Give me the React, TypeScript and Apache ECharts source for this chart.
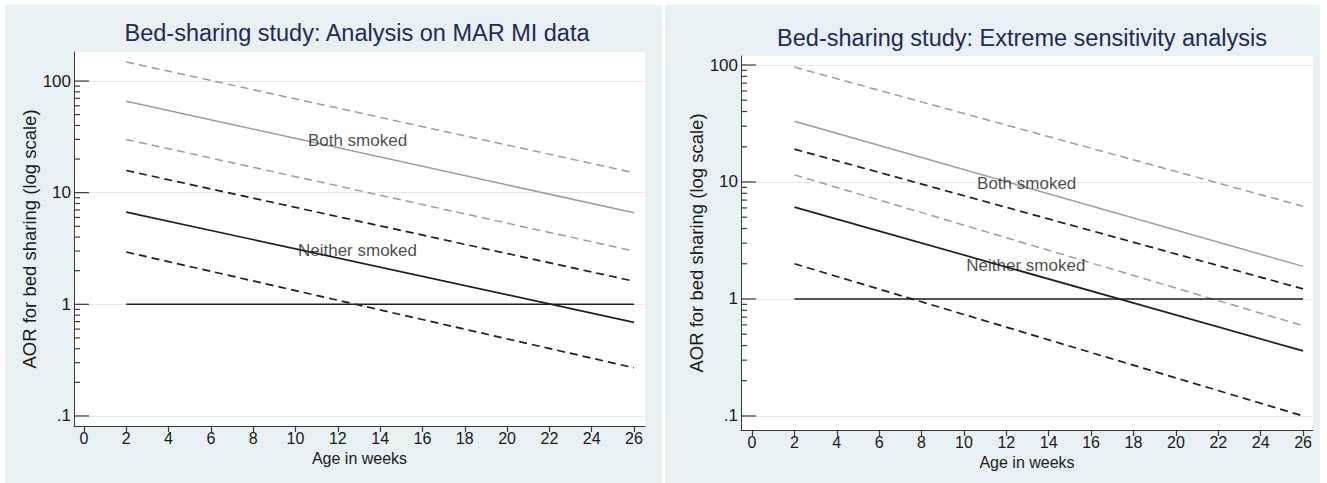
import React, { useEffect, useRef } from "react";
import * as echarts from "echarts";

// ---------- data ----------
const weeks = [2, 26];

// Left panel: Analysis on MAR MI data (AOR values at 2 and 26 weeks)
const leftBothUpper = [148, 15.1];
const leftBoth = [66, 6.6];
const leftBothLower = [30, 3.0];
const leftNeitherUpper = [15.8, 1.61];
const leftNeither = [6.7, 0.69];
const leftNeitherLower = [2.94, 0.27];

// Right panel: Extreme sensitivity analysis
const rightBothUpper = [96, 6.2];
const rightBoth = [33, 1.9];
const rightBothLower = [11.5, 0.59];
const rightNeitherUpper = [19.1, 1.22];
const rightNeither = [6.1, 0.36];
const rightNeitherLower = [2.0, 0.1];

const referenceLine = [1, 1];

const xTicks = [0, 2, 4, 6, 8, 10, 12, 14, 16, 18, 20, 22, 24, 26];
const yMajor = [0.1, 1, 10, 100];
const yMajorLabels = [".1", "1", "10", "100"];
const yMinor = [
  0.2, 0.3, 0.4, 0.5, 0.6, 0.7, 0.8, 0.9,
  2, 3, 4, 5, 6, 7, 8, 9,
  20, 30, 40, 50, 60, 70, 80, 90,
];

const leftAnnotations = [
  { text: "Both smoked", week: 12.93, aor: 29.6 },
  { text: "Neither smoked", week: 12.93, aor: 3.02 },
];
const rightAnnotations = [
  { text: "Both smoked", week: 12.96, aor: 9.75 },
  { text: "Neither smoked", week: 12.92, aor: 1.95 },
];

const titles = [
  "Bed-sharing study: Analysis on MAR MI data",
  "Bed-sharing study: Extreme sensitivity analysis",
];

// ---------- styling ----------
const FONT = "'Liberation Sans', Arial, Helvetica, sans-serif";
const PANEL_BG = "#e8f0f3";
const AXIS_COLOR = "#3a3a3a";
const TEXT_COLOR = "#1a1a1a";
const GRAY = "#9b9b9b";
const BLACK = "#1e1e1e";
const GRID_COLOR = "#dfe8ec";
const MAJOR_TICK_LEN = 15;
const MINOR_TICK_LEN = 6;

const L = (v: number) => Math.log10(v);

const grids = [
  { left: 74, top: 52, width: 571, height: 374, ymin: -1.09, ymax: 2.26, xmin: -0.47, xmax: 26.52 },
  { left: 741, top: 56, width: 572, height: 374, ymin: -1.12, ymax: 2.077, xmin: -0.52, xmax: 26.47 },
];

function yAxis(gi: number) {
  const g = grids[gi];
  return {
    type: "value",
    gridIndex: gi,
    min: g.ymin,
    max: g.ymax,
    position: "left",
    axisLine: { show: true, onZero: false, lineStyle: { color: AXIS_COLOR, width: 1 } },
    axisTick: { show: false, customValues: yMajor.map(L) },
    axisLabel: {
      show: true,
      customValues: yMajor.map(L),
      margin: 3,
      fontSize: 17,
      color: TEXT_COLOR,
      fontFamily: FONT,
      formatter: (v: number) => {
        const idx = yMajor.findIndex((m) => Math.abs(L(m) - v) < 1e-6);
        return idx >= 0 ? yMajorLabels[idx] : "";
      },
    },
    splitLine: { show: true, lineStyle: { color: GRID_COLOR, width: 1 } },
    name: "AOR for bed sharing (log scale)",
    nameLocation: "middle",
    nameGap: 34,
    nameTextStyle: { fontSize: 18.5, color: TEXT_COLOR, fontFamily: FONT },
  };
}

function xAxis(gi: number) {
  const g = grids[gi];
  return {
    type: "value",
    gridIndex: gi,
    min: g.xmin,
    max: g.xmax,
    position: "bottom",
    axisLine: { show: true, onZero: false, lineStyle: { color: AXIS_COLOR, width: 1 } },
    axisTick: {
      show: true,
      inside: false,
      length: 6,
      customValues: xTicks,
      lineStyle: { color: AXIS_COLOR, width: 1.2 },
    },
    axisLabel: {
      show: true,
      customValues: xTicks,
      margin: 4,
      fontSize: 16,
      color: TEXT_COLOR,
      fontFamily: FONT,
    },
    splitLine: { show: false },
    name: "Age in weeks",
    nameLocation: "middle",
    nameGap: 24,
    nameTextStyle: { fontSize: 16, color: TEXT_COLOR, fontFamily: FONT },
  };
}

// y-axis ticks (log major + minor) drawn through the grid's coordinate system,
// pointing inward from the axis line
function yTicks(gi: number) {
  const g = grids[gi];
  const data = [
    ...yMajor.map((v) => [g.xmin, L(v), MAJOR_TICK_LEN]),
    ...yMinor.map((v) => [g.xmin, L(v), MINOR_TICK_LEN]),
  ];
  return {
    type: "custom",
    xAxisIndex: gi,
    yAxisIndex: gi,
    silent: true,
    clip: false,
    z: 6,
    data,
    renderItem: (_params: any, api: any) => {
      const p = api.coord([api.value(0), api.value(1)]);
      const len = api.value(2);
      return {
        type: "line",
        shape: { x1: p[0], y1: p[1], x2: p[0] + len, y2: p[1] },
        style: { stroke: AXIS_COLOR, lineWidth: 1.2 },
      };
    },
  };
}

function line(gi: number, vals: number[], color: string, dashed: boolean, width: number) {
  return {
    type: "line",
    xAxisIndex: gi,
    yAxisIndex: gi,
    data: weeks.map((w, i) => [w, L(vals[i])]),
    symbol: "none",
    silent: true,
    z: 3,
    lineStyle: { color, width, type: dashed ? [8, 5] : "solid" },
  };
}

function annotations(gi: number, list: { text: string; week: number; aor: number }[]) {
  return {
    type: "scatter",
    xAxisIndex: gi,
    yAxisIndex: gi,
    symbolSize: 1,
    silent: true,
    z: 5,
    itemStyle: { color: "rgba(0,0,0,0)" },
    data: list.map((a) => ({ value: [a.week, L(a.aor)], name: a.text })),
    label: {
      show: true,
      position: "inside",
      formatter: (p: any) => p.name,
      fontSize: 17,
      color: TEXT_COLOR,
      textBorderWidth: 0,
      fontFamily: FONT,
    },
  };
}

export default function App() {
  const ref = useRef<HTMLDivElement>(null);
  useEffect(() => {
    if (!ref.current) return;
    const chart = echarts.init(ref.current, undefined, { renderer: "svg" });
    const option = {
      animation: false,
      backgroundColor: "#ffffff",
      graphic: [
        { type: "rect", z: -10, shape: { x: 5, y: 5, width: 657, height: 478 }, style: { fill: PANEL_BG } },
        { type: "rect", z: -10, shape: { x: 665, y: 5, width: 655, height: 478 }, style: { fill: PANEL_BG } },
        {
          type: "text", x: 357, y: 33, z: 10,
          style: { text: titles[0], align: "center", verticalAlign: "middle", fontSize: 23.5, fill: "#1f2a55", fontFamily: FONT },
        },
        {
          type: "text", x: 1022, y: 38, z: 10,
          style: { text: titles[1], align: "center", verticalAlign: "middle", fontSize: 23.5, fill: "#1f2a55", fontFamily: FONT },
        },
      ],
      grid: grids.map((g) => ({
        left: g.left, top: g.top, width: g.width, height: g.height,
        show: true, backgroundColor: "#ffffff", borderWidth: 0,
      })),
      xAxis: [xAxis(0), xAxis(1)],
      yAxis: [yAxis(0), yAxis(1)],
      series: [
        line(0, leftBothUpper, GRAY, true, 1.5),
        line(0, leftBoth, GRAY, false, 1.5),
        line(0, leftBothLower, GRAY, true, 1.5),
        line(0, leftNeitherUpper, BLACK, true, 1.7),
        line(0, leftNeither, BLACK, false, 1.7),
        line(0, leftNeitherLower, BLACK, true, 1.7),
        line(0, referenceLine, BLACK, false, 1.4),
        annotations(0, leftAnnotations),
        yTicks(0),
        line(1, rightBothUpper, GRAY, true, 1.5),
        line(1, rightBoth, GRAY, false, 1.5),
        line(1, rightBothLower, GRAY, true, 1.5),
        line(1, rightNeitherUpper, BLACK, true, 1.7),
        line(1, rightNeither, BLACK, false, 1.7),
        line(1, rightNeitherLower, BLACK, true, 1.7),
        line(1, referenceLine, BLACK, false, 1.4),
        annotations(1, rightAnnotations),
        yTicks(1),
      ],
    };
    chart.setOption(option as any);
    return () => chart.dispose();
  }, []);
  return (
    <div
      ref={ref}
      style={{ position: "fixed", left: 0, top: 0, width: 1327, height: 483 }}
    />
  );
}
